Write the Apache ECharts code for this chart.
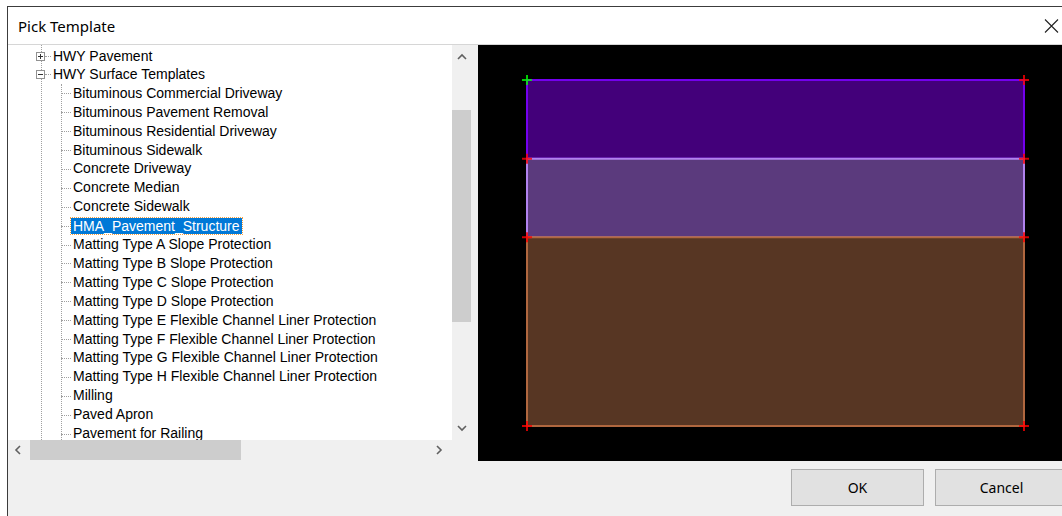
<!DOCTYPE html>
<html>
<head>
<meta charset="utf-8">
<script src="https://cdn.jsdelivr.net/npm/echarts@6/dist/echarts.min.js"></script>
<style>
  html, body { margin:0; padding:0; width:1062px; height:516px; overflow:hidden; background:#ffffff; }
  .abs { position:absolute; }
  #dialog { left:7px; top:6px; width:1062px; height:520px; background:#f0f0f0; border-left:1px solid #3c3c3c; border-top:1px solid #3c3c3c; box-sizing:border-box; }
  #titlebar { left:8px; top:7px; width:1054px; height:38px; background:#ffffff; border-bottom:1px solid #d6d6d6; box-sizing:border-box; }
  #title { left:18px; top:16px; font-family:"Noto Sans", "Open Sans", sans-serif; font-size:15px; color:#000; line-height:20px; white-space:nowrap; }
  #close { left:1044px; top:19px; width:15px; height:14px; }
  #tree { left:8px; top:45px; width:444px; height:395px; background:#ffffff; overflow:hidden; }
  .row { position:absolute; height:19px; line-height:19px; font-family:"Liberation Sans", Arial, sans-serif; font-size:14px; color:#000; white-space:nowrap; }
  .sel { background:#0078d7; color:#fff; outline:1px dotted #f5a040; padding:0 2px; margin-left:-2px; line-height:16px; height:16px; }
  .vdot { position:absolute; width:0; border-left:1px dotted #a0a0a0; }
  .hdot { position:absolute; height:0; border-top:1px dotted #a0a0a0; }
  .box { position:absolute; width:9px; height:9px; border:1px solid #919191; background:#fff; box-sizing:border-box; }
  .box .h { position:absolute; left:1px; top:3px; width:5px; height:1px; background:#333; }
  .box .v { position:absolute; left:3px; top:1px; width:1px; height:5px; background:#333; }
  #vscroll { left:452px; top:45px; width:20px; height:395px; background:#f0f0f0; }
  #vthumb { left:452px; top:110px; width:19px; height:212px; background:#cdcdcd; }
  #hscroll { left:8px; top:440px; width:444px; height:20px; background:#f0f0f0; }
  #hthumb { left:30px; top:440px; width:211px; height:20px; background:#cdcdcd; }
  .chev { position:absolute; width:12px; height:12px; }
  #preview { left:478px; top:45px; width:584px; height:416px; background:#000; }
  .btn { position:absolute; top:469px; width:133px; height:37px; background:#e1e1e1; border:1px solid #adadad; box-sizing:border-box; font-family:"Noto Sans", "Open Sans", sans-serif; font-size:14px; line-height:35px; text-align:center; color:#000; }
</style>
</head>
<body>
<div id="dialog" class="abs"></div>
<div id="titlebar" class="abs"></div>
<div id="title" class="abs"></div>
<svg id="close" class="abs" viewBox="0 0 15 14"><path d="M1,0.5 L14,13.5 M14,0.5 L1,13.5" stroke="#222" stroke-width="1.1" fill="none"/></svg>
<div id="tree" class="abs"></div>
<div id="vscroll" class="abs"></div>
<div id="vthumb" class="abs"></div>
<div id="hscroll" class="abs"></div>
<div id="hthumb" class="abs"></div>
<svg class="chev" style="left:456px;top:51px" viewBox="0 0 12 12"><path d="M2,8 L6,4 L10,8" stroke="#606060" stroke-width="1.6" fill="none"/></svg>
<svg class="chev" style="left:456px;top:422px" viewBox="0 0 12 12"><path d="M2,4 L6,8 L10,4" stroke="#606060" stroke-width="1.6" fill="none"/></svg>
<svg class="chev" style="left:12px;top:444px" viewBox="0 0 12 12"><path d="M8,2 L4,6 L8,10" stroke="#606060" stroke-width="1.6" fill="none"/></svg>
<svg class="chev" style="left:433px;top:444px" viewBox="0 0 12 12"><path d="M4,2 L8,6 L4,10" stroke="#606060" stroke-width="1.6" fill="none"/></svg>
<div id="preview" class="abs"></div>
<div id="buttons"></div>
<script>
// ---- text content ----
const dialogTitle = "Pick Template";
const treeRoots = ["HWY Pavement", "HWY Surface Templates"];
const rootExpanded = [false, true];
const treeChildren = [
  "Bituminous Commercial Driveway",
  "Bituminous Pavement Removal",
  "Bituminous Residential Driveway",
  "Bituminous Sidewalk",
  "Concrete Driveway",
  "Concrete Median",
  "Concrete Sidewalk",
  "HMA_Pavement_Structure",
  "Matting Type A Slope Protection",
  "Matting Type B Slope Protection",
  "Matting Type C Slope Protection",
  "Matting Type D Slope Protection",
  "Matting Type E Flexible Channel Liner Protection",
  "Matting Type F Flexible Channel Liner Protection",
  "Matting Type G Flexible Channel Liner Protection",
  "Matting Type H Flexible Channel Liner Protection",
  "Milling",
  "Paved Apron",
  "Pavement for Railing"
];
const selectedChild = "HMA_Pavement_Structure";
const buttonLabels = ["OK", "Cancel"];

// ---- template preview data (layer extents) ----
const sectionLeft = 0;
const sectionRight = 12;
const layerTop = [0, -0.25, -0.5];
const layerBottom = [-0.25, -0.5, -1.1];

// ---- build dialog chrome ----
document.getElementById('title').textContent = dialogTitle;
const tree = document.getElementById('tree');
const rowH = 18.9, firstRowMid = 10.5; // relative to tree top
function add(cls, css, text) {
  const d = document.createElement('div');
  d.className = cls; Object.assign(d.style, css);
  if (text !== undefined) d.textContent = text;
  tree.appendChild(d); return d;
}
// root level vertical dotted line
add('vdot', {left:'33px', top:'0px', height:'395px'});
// child level vertical dotted line
add('vdot', {left:'53px', top:'39px', height:'400px'});
treeRoots.forEach((r, i) => {
  const mid = Math.round(firstRowMid + i * rowH);
  const b = add('box', {left:'28px', top:(mid - 4) + 'px'});
  const h = document.createElement('div'); h.className = 'h'; b.appendChild(h);
  if (!rootExpanded[i]) { const v = document.createElement('div'); v.className = 'v'; b.appendChild(v); }
  add('hdot', {left:'37px', top:mid + 'px', width:'6px'});
  add('row', {left:'45px', top:(mid - 9.5) + 'px'}, r);
});
treeChildren.forEach((c, j) => {
  const midF = firstRowMid + (j + 2) * rowH;
  const mid = Math.round(midF);
  add('hdot', {left:'53px', top:mid + 'px', width:'10px'});
  const el = add('row', {left:'65px', top:(midF - 9.5) + 'px'}, c);
  if (c === selectedChild) { el.classList.add('sel'); el.style.top = (mid - 8) + 'px'; }
});
const bwrap = document.getElementById('buttons');
buttonLabels.forEach((t, i) => {
  const d = document.createElement('div');
  d.className = 'btn'; d.style.left = (791 + i * 144) + 'px';
  d.textContent = t; bwrap.appendChild(d);
});

// ---- chart ----
const layerFill = ['#43007a', '#5b3a7d', '#573623'];
const layerStroke = ['#7400ee', '#b182ee', '#b0673f'];

const layerData = layerTop.map((t, i) => [sectionLeft, sectionRight, t, layerBottom[i], i]);
const vertexData = [];
layerTop.forEach(t => { vertexData.push([sectionLeft, t]); vertexData.push([sectionRight, t]); });
vertexData.push([sectionLeft, layerBottom[layerBottom.length - 1]]);
vertexData.push([sectionRight, layerBottom[layerBottom.length - 1]]);

const crossPath = 'path://M4,0H6V4H10V6H6V10H4V6H0V4H4Z';
const chart = echarts.init(document.getElementById('preview'), null, {renderer:'svg'});
chart.setOption({
  backgroundColor: '#000000',
  animation: false,
  grid: {left:49, right:38, top:35, bottom:35},
  xAxis: {type:'value', min:sectionLeft, max:sectionRight, show:false},
  yAxis: {type:'value', min:layerBottom[layerBottom.length - 1], max:layerTop[0], show:false},
  series: [
    {
      type:'custom',
      data: layerData,
      renderItem: function (params, api) {
        const i = api.value(4);
        const p0 = api.coord([api.value(0), api.value(2)]);
        const p1 = api.coord([api.value(1), api.value(3)]);
        return {
          type:'rect',
          shape:{x:p0[0], y:p0[1], width:p1[0] - p0[0], height:p1[1] - p0[1]},
          style:{fill:layerFill[i], stroke:layerStroke[i], lineWidth:2}
        };
      },
      z: 2
    },
    {
      type:'scatter',
      data: vertexData,
      symbol: crossPath,
      symbolSize: 10,
      itemStyle: {
        color: function (p) { return p.dataIndex === 0 ? '#00ff00' : '#ff0000'; }
      },
      z: 3
    }
  ]
});
</script>
</body>
</html>
